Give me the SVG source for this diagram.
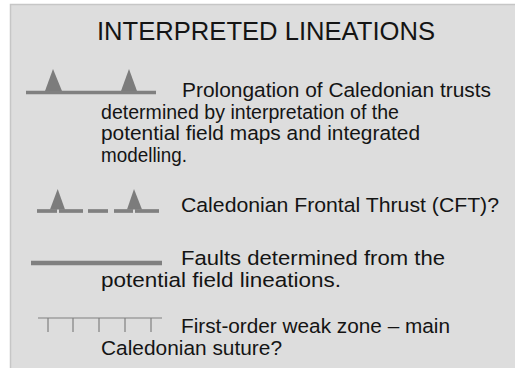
<svg xmlns="http://www.w3.org/2000/svg" width="515" height="368" viewBox="0 0 515 368">
<style>
.t{font-family:"Liberation Sans",Arial,sans-serif;font-size:20.5px;fill:#141414}
.ttl{font-family:"Liberation Sans",Arial,sans-serif;font-size:25px;fill:#141414}
.ln{stroke:#808080;fill:none}
.tri{fill:#7c7c7c}
</style>
<rect x="0" y="0" width="515" height="368" fill="#ffffff"/>
<rect x="10.5" y="4.5" width="520" height="380" fill="#dddddd" stroke="#c6c6c6" stroke-width="1.5"/>
<g id="title">
<text class="ttl" x="97" y="40" textLength="338" lengthAdjust="spacingAndGlyphs">INTERPRETED LINEATIONS</text>
</g>
<g id="item-prolongation">
<line class="ln" x1="26" y1="92.5" x2="156" y2="92.5" stroke-width="3.6"/>
<polygon class="tri" points="45,91 53,69 62,91"/>
<polygon class="tri" points="121,91 129,69 137,91"/>
<text class="t" x="182" y="97" textLength="309" lengthAdjust="spacingAndGlyphs">Prolongation of Caledonian trusts</text>
<text class="t" x="101" y="119" textLength="298" lengthAdjust="spacingAndGlyphs">determined by interpretation of the</text>
<text class="t" x="101" y="140" textLength="319" lengthAdjust="spacingAndGlyphs">potential field maps and integrated</text>
<text class="t" x="101" y="162" textLength="86" lengthAdjust="spacingAndGlyphs">modelling.</text>
</g>
<g id="item-cft">
<g class="ln" stroke-width="3.7">
<line x1="37" y1="211" x2="57" y2="211"/>
<line x1="59" y1="211" x2="83" y2="211"/>
<line x1="88" y1="211" x2="108" y2="211"/>
<line x1="114" y1="211" x2="133" y2="211"/>
<line x1="135" y1="211" x2="159" y2="211"/>
</g>
<polygon class="tri" points="50,209.5 57.7,189 65,209.5"/>
<polygon class="tri" points="127,209.5 134,189 142,209.5"/>
<text class="t" x="181" y="212" textLength="318" lengthAdjust="spacingAndGlyphs">Caledonian Frontal Thrust (CFT)?</text>
</g>
<g id="item-faults">
<line class="ln" x1="31" y1="263" x2="162" y2="263" stroke-width="4.5"/>
<text class="t" x="181" y="265" textLength="264" lengthAdjust="spacingAndGlyphs">Faults determined from the</text>
<text class="t" x="101" y="287" textLength="240" lengthAdjust="spacingAndGlyphs">potential field lineations.</text>
</g>
<g id="item-weakzone">
<g class="ln" stroke-width="1.2">
<line x1="38" y1="318" x2="162" y2="318"/>
<line x1="48" y1="318" x2="48" y2="332"/>
<line x1="73" y1="318" x2="73" y2="332"/>
<line x1="99" y1="318" x2="99" y2="332"/>
<line x1="125" y1="318" x2="125" y2="332"/>
<line x1="151" y1="318" x2="151" y2="332"/>
</g>
<text class="t" x="181" y="333" textLength="269" lengthAdjust="spacingAndGlyphs">First-order weak zone – main</text>
<text class="t" x="101" y="355" textLength="181" lengthAdjust="spacingAndGlyphs">Caledonian suture?</text>
</g>
</svg>
